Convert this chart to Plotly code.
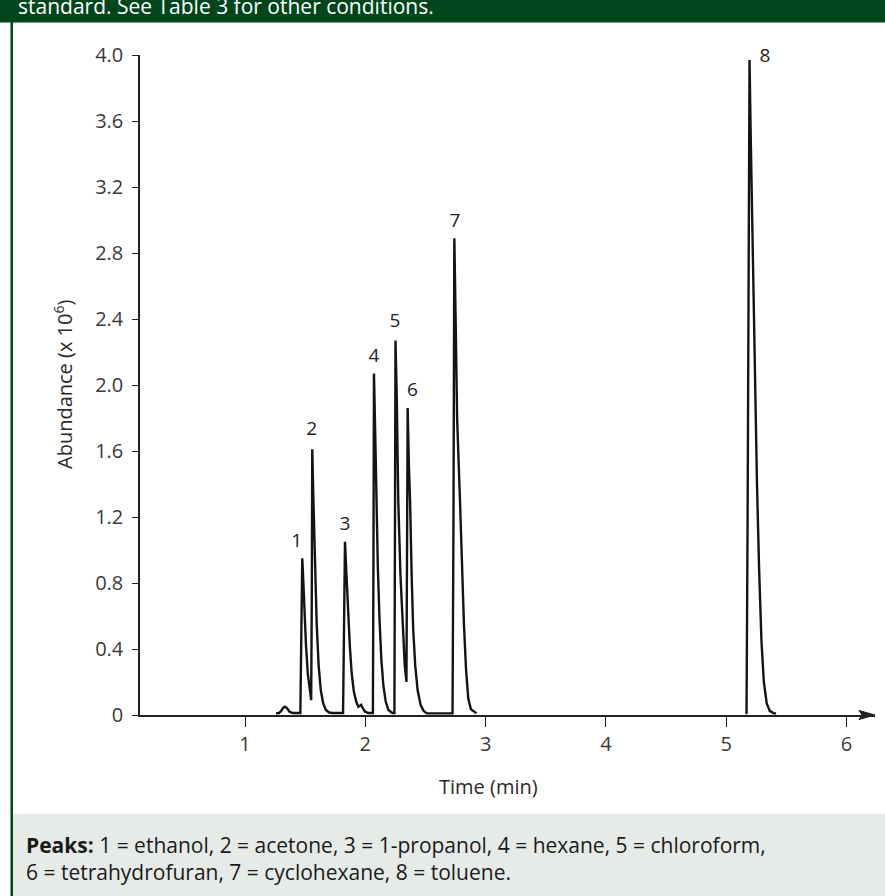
import plotly.graph_objects as go

# ---- data (None = gap in the trace) ----
time_min = [1.258, 1.282, 1.300, 1.318, 1.332, 1.350, 1.370, 1.395, 1.460,
            1.468, 1.476, 1.484, 1.494, 1.507, 1.522, 1.537, 1.550,
            1.555, 1.559, 1.568, 1.580, 1.596, 1.612, 1.630, 1.650, 1.672, 1.700, 1.730,
            1.815, 1.823, 1.831, 1.842, 1.857, 1.872, 1.887, 1.905, 1.925, 1.942, 1.953,
            1.966, 1.980, 1.998, 2.025,
            2.063, 2.068, 2.072, 2.082, 2.091, 2.104, 2.118, 2.133, 2.150, 2.170, 2.192, 2.225,
            2.242, 2.247, 2.251, 2.262, 2.274, 2.292, 2.310, 2.328, 2.342,
            2.347, 2.352, 2.362, 2.372, 2.385, 2.398, 2.415, 2.435, 2.460, 2.485, 2.512,
            2.725, 2.733, 2.740, 2.752, 2.763, 2.787, 2.803, 2.820, 2.837, 2.856, 2.878, 2.925,
            None,
            5.160, 5.169, 5.178, 5.187, 5.194, 5.204, 5.222, 5.240, 5.256, 5.273, 5.293, 5.313,
            5.337, 5.362, 5.395, 5.415]
abundance = [0.010, 0.012, 0.025, 0.045, 0.050, 0.040, 0.020, 0.012, 0.012,
             0.45, 0.95, 0.82, 0.62, 0.42, 0.25, 0.14, 0.09,
             0.70, 1.61, 1.32, 0.92, 0.55, 0.30, 0.15, 0.07, 0.03, 0.015, 0.012,
             0.012, 0.55, 1.05, 0.87, 0.62, 0.41, 0.25, 0.14, 0.08, 0.05, 0.055,
             0.062, 0.04, 0.02, 0.012,
             0.012, 1.00, 2.07, 1.72, 1.30, 0.90, 0.58, 0.34, 0.18, 0.08, 0.03, 0.012,
             0.012, 1.10, 2.27, 1.90, 1.30, 0.85, 0.52, 0.30, 0.20,
             0.90, 1.86, 1.52, 1.30, 0.85, 0.52, 0.30, 0.15, 0.06, 0.025, 0.010,
             0.010, 1.20, 2.89, 2.35, 1.80, 1.30, 0.90, 0.55, 0.28, 0.10, 0.035, 0.010,
             None,
             0.010, 0.012, 1.20, 2.60, 3.97, 3.50, 2.70, 2.00, 1.40, 0.90, 0.45, 0.20,
             0.07, 0.025, 0.010, 0.010]

peak_ids = ["1", "2", "3", "4", "5", "6", "7", "8"]
label_t = [1.430, 1.554, 1.831, 2.072, 2.247, 2.391, 2.746, 5.323]
label_y = [1.050, 1.723, 1.152, 2.168, 2.378, 1.965, 2.988, 3.988]

x_ticks = [1, 2, 3, 4, 5, 6]
y_ticks = [0, 0.4, 0.8, 1.2, 1.6, 2.0, 2.4, 2.8, 3.2, 3.6, 4.0]
y_ticktext = ["0", "0.4", "0.8", "1.2", "1.6", "2.0", "2.4", "2.8", "3.2", "3.6", "4.0"]

header_text = "standard. See Table 3 for other conditions."
caption_text = ("<b>Peaks:</b> 1 = ethanol, 2 = acetone, 3 = 1-propanol, 4 = hexane, "
                "5 = chloroform,<br>6 = tetrahydrofuran, 7 = cyclohexane, 8 = toluene.")

# ---- layout geometry (pixels) ----
W, H = 885, 896
ML, MR, MT, MB = 140, 10, 55, 181
PW, PH = W - ML - MR, H - MT - MB
FONT = "Open Sans"
GREEN = "#00461c"


def px(xp):
    return (xp - ML) / PW


def py(yp):
    return (H - MB - yp) / PH


fig = go.Figure()
fig.add_trace(go.Scatter(x=time_min, y=abundance, mode="lines", connectgaps=False,
                         line=dict(color="#141414", width=2.4),
                         hoverinfo="skip", cliponaxis=False, showlegend=False))

fig.add_trace(go.Scatter(x=label_t, y=label_y, mode="text", text=peak_ids,
                         textfont=dict(family=FONT, size=19, color="#222222"),
                         textposition="middle center", cliponaxis=False,
                         hoverinfo="skip", showlegend=False))

shapes = [
    # header band
    dict(type="rect", xref="paper", yref="paper", x0=px(0), x1=px(W), y0=py(22.5), y1=py(0),
         fillcolor=GREEN, line=dict(width=0), layer="below"),
    # caption box
    dict(type="rect", xref="paper", yref="paper", x0=px(12), x1=px(W), y0=py(H), y1=py(814),
         fillcolor="#e6ebe7", line=dict(width=0), layer="below"),
    # left border
    dict(type="rect", xref="paper", yref="paper", x0=px(10.5), x1=px(13), y0=py(H), y1=py(0),
         fillcolor=GREEN, line=dict(width=0), layer="below"),
    # arrowhead of x axis
    dict(type="path", xref="paper", yref="paper",
         path=(f"M {px(875)},{py(715)} L {px(859)},{py(710.5)} L {px(862)},{py(715)} "
               f"L {px(859)},{py(719.5)} Z"),
         fillcolor="#222222", line=dict(color="#222222", width=1)),
]

annotations = [
    dict(text=header_text, xref="paper", yref="paper", x=px(16), y=py(6),
         xanchor="left", yanchor="middle", showarrow=False,
         font=dict(family=FONT, size=21, color="white")),
    dict(text="Abundance (x 10<sup>6</sup>)", xref="paper", yref="paper",
         x=px(63), y=0.5, xanchor="center", yanchor="middle", textangle=-90,
         showarrow=False, font=dict(family=FONT, size=20, color="#2a2a2a")),
    dict(text="Time (min)", xref="x", yref="paper", x=3.02, y=py(786),
         xanchor="center", yanchor="middle", showarrow=False,
         font=dict(family=FONT, size=20, color="#2a2a2a")),
    dict(text=caption_text, xref="paper", yref="paper", x=px(24), y=py(858.5),
         xanchor="left", yanchor="middle", align="left", showarrow=False,
         font=dict(family=FONT, size=21, color="#1a1a1a")),
]

fig.update_layout(
    width=W, height=H,
    margin=dict(l=ML, r=MR, t=MT, b=MB, pad=0),
    paper_bgcolor="white", plot_bgcolor="white",
    shapes=shapes, annotations=annotations,
    xaxis=dict(range=[0.127, 6.237], tickvals=x_ticks, ticks="outside", ticklen=10,
               tickwidth=1.3, tickcolor="#222222", showline=True, linecolor="#222222",
               linewidth=1.5, showgrid=False, zeroline=False,
               tickfont=dict(family=FONT, size=20, color="#3a3a3a")),
    yaxis=dict(range=[0, 4.0], tickvals=y_ticks, ticktext=y_ticktext, ticks="outside",
               ticklen=6, tickwidth=1.3, tickcolor="#222222", showline=True,
               linecolor="#222222", linewidth=1.5, showgrid=False, zeroline=False,
               ticklabelstandoff=5,
               tickfont=dict(family=FONT, size=20, color="#3a3a3a")),
)

fig.write_html("out.html", config={"displayModeBar": False},
               post_script="document.body.style.margin='0';document.body.style.overflow='hidden';")
